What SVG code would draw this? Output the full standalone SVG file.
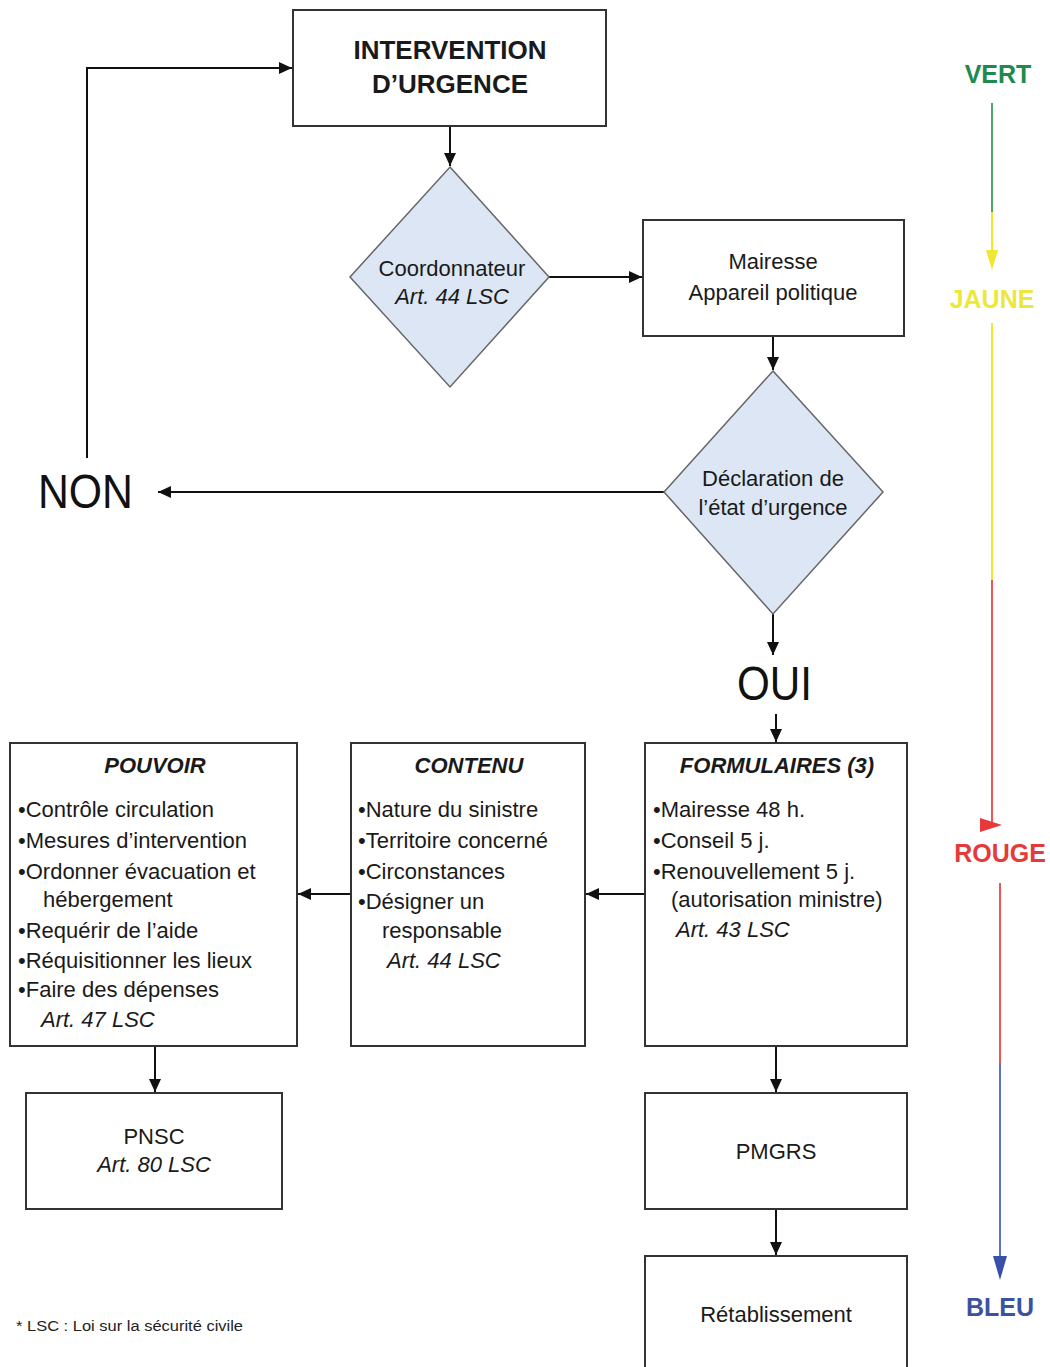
<svg xmlns="http://www.w3.org/2000/svg" width="1050" height="1367" viewBox="0 0 1050 1367">
<style>
  .box { fill: #ffffff; stroke: #333333; stroke-width: 2; }
  .dia { fill: #dce6f4; stroke: #666666; stroke-width: 1.5; }
  .t { font-family: "Liberation Sans", Arial, sans-serif; font-size: 22px; fill: #1a1a1a; }
  .c { text-anchor: middle; }
  .i { font-style: italic; }
  .h { font-weight: bold; font-style: italic; }
  .big { font-family: "Liberation Sans", Arial, sans-serif; font-size: 26px; font-weight: bold; fill: #1a1a1a; text-anchor: middle; }
  .yn { font-family: "Liberation Sans", Arial, sans-serif; font-size: 48px; fill: #111111; }
  .col { font-family: "Liberation Sans", Arial, sans-serif; font-size: 25px; font-weight: bold; text-anchor: middle; }
  .conn { fill: none; stroke: #111111; stroke-width: 2; marker-end: url(#ah); }
</style>
<defs>
  <marker id="ah" markerUnits="userSpaceOnUse" markerWidth="14" markerHeight="12" refX="13" refY="6" orient="auto">
    <path d="M0,0 L13,6 L0,12 z" fill="#111111"/>
  </marker>
</defs>
<rect x="0" y="0" width="1050" height="1367" fill="#ffffff"/>

<g id="connectors">
  <path class="conn" d="M450,126 L450,166"/>
  <path class="conn" d="M549,277 L642,277"/>
  <path class="conn" d="M773,336 L773,370"/>
  <path class="conn" d="M664,492 L158,492"/>
  <path class="conn" d="M87,458 L87,68 L292,68"/>
  <path class="conn" d="M773,614 L773,655"/>
  <path class="conn" d="M776,714 L776,742"/>
  <path class="conn" d="M645,894 L586,894"/>
  <path class="conn" d="M351,894 L298,894"/>
  <path class="conn" d="M155,1046 L155,1092"/>
  <path class="conn" d="M776,1046 L776,1092"/>
  <path class="conn" d="M776,1209 L776,1255"/>
</g>

<g id="intervention">
  <rect class="box" x="293" y="10" width="313" height="116"/>
  <text class="big" x="450" y="59">INTERVENTION</text>
  <text class="big" x="450" y="93">D’URGENCE</text>
</g>

<g id="coordonnateur">
  <polygon class="dia" points="450,167 549,277 450,387 350,277"/>
  <text class="t c" x="452" y="276">Coordonnateur</text>
  <text class="t c i" x="452" y="304">Art. 44 LSC</text>
</g>

<g id="mairesse">
  <rect class="box" x="643" y="220" width="261" height="116"/>
  <text class="t c" x="773" y="269">Mairesse</text>
  <text class="t c" x="773" y="300">Appareil politique</text>
</g>

<g id="declaration">
  <polygon class="dia" points="773,371 883,492 773,614 664,492"/>
  <text class="t c" x="773" y="486">Déclaration de</text>
  <text class="t c" x="773" y="515">l’état d’urgence</text>
</g>

<g id="non">
  <text class="yn" x="38" y="508" textLength="95" lengthAdjust="spacingAndGlyphs">NON</text>
</g>

<g id="oui">
  <text class="yn" x="737" y="700" textLength="75" lengthAdjust="spacingAndGlyphs">OUI</text>
</g>

<g id="formulaires">
  <rect class="box" x="645" y="743" width="262" height="303"/>
  <text class="t c h" x="777" y="773">FORMULAIRES (3)</text>
  <text class="t" x="653" y="817">•Mairesse 48 h.</text>
  <text class="t" x="653" y="848">•Conseil 5 j.</text>
  <text class="t" x="653" y="879">•Renouvellement 5 j.</text>
  <text class="t" x="671" y="907">(autorisation ministre)</text>
  <text class="t i" x="676" y="937">Art. 43 LSC</text>
</g>

<g id="contenu">
  <rect class="box" x="351" y="743" width="234" height="303"/>
  <text class="t c h" x="469" y="773">CONTENU</text>
  <text class="t" x="358" y="817">•Nature du sinistre</text>
  <text class="t" x="358" y="848">•Territoire concerné</text>
  <text class="t" x="358" y="879">•Circonstances</text>
  <text class="t" x="358" y="909">•Désigner un</text>
  <text class="t" x="382" y="938">responsable</text>
  <text class="t i" x="387" y="968">Art. 44 LSC</text>
</g>

<g id="pouvoir">
  <rect class="box" x="10" y="743" width="287" height="303"/>
  <text class="t c h" x="155" y="773">POUVOIR</text>
  <text class="t" x="18" y="817">•Contrôle circulation</text>
  <text class="t" x="18" y="848">•Mesures d’intervention</text>
  <text class="t" x="18" y="879">•Ordonner évacuation et</text>
  <text class="t" x="43" y="907">hébergement</text>
  <text class="t" x="18" y="938">•Requérir de l’aide</text>
  <text class="t" x="18" y="968">•Réquisitionner les lieux</text>
  <text class="t" x="18" y="997">•Faire des dépenses</text>
  <text class="t i" x="41" y="1027">Art. 47 LSC</text>
</g>

<g id="pnsc">
  <rect class="box" x="26" y="1093" width="256" height="116"/>
  <text class="t c" x="154" y="1144">PNSC</text>
  <text class="t c i" x="154" y="1172">Art. 80 LSC</text>
</g>

<g id="pmgrs">
  <rect class="box" x="645" y="1093" width="262" height="116"/>
  <text class="t c" x="776" y="1159">PMGRS</text>
</g>

<g id="retablissement">
  <rect class="box" x="645" y="1256" width="262" height="120"/>
  <text class="t c" x="776" y="1322">Rétablissement</text>
</g>

<g id="footnote">
  <text x="16" y="1331" font-family="Liberation Sans, Arial, sans-serif" font-size="15.5" fill="#222222" textLength="227" lengthAdjust="spacingAndGlyphs">* LSC : Loi sur la sécurité civile</text>
</g>

<g id="color-scale">
  <text class="col" x="998" y="83" fill="#1e8a4c">VERT</text>
  <line x1="992" y1="103" x2="992" y2="212" stroke="#4ca868" stroke-width="2"/>
  <line x1="992" y1="212" x2="992" y2="252" stroke="#f0e830" stroke-width="2"/>
  <polygon points="986,250 998,250 992,270" fill="#f0e830"/>
  <text class="col" x="992" y="308" fill="#ece83a">JAUNE</text>
  <line x1="992" y1="323" x2="992" y2="580" stroke="#f0e830" stroke-width="2"/>
  <line x1="992" y1="580" x2="992" y2="828" stroke="#f05555" stroke-width="2"/>
  <polygon points="980,818 1002,825 980,832" fill="#e8383a"/>
  <text class="col" x="1000" y="862" fill="#e53a3a">ROUGE</text>
  <line x1="1000" y1="883" x2="1000" y2="1063" stroke="#f05555" stroke-width="2"/>
  <line x1="1000" y1="1063" x2="1000" y2="1258" stroke="#5a74c0" stroke-width="2"/>
  <polygon points="993,1256 1007,1256 1000,1280" fill="#3a50a8"/>
  <text class="col" x="1000" y="1316" fill="#3c52a0">BLEU</text>
</g>
</svg>
